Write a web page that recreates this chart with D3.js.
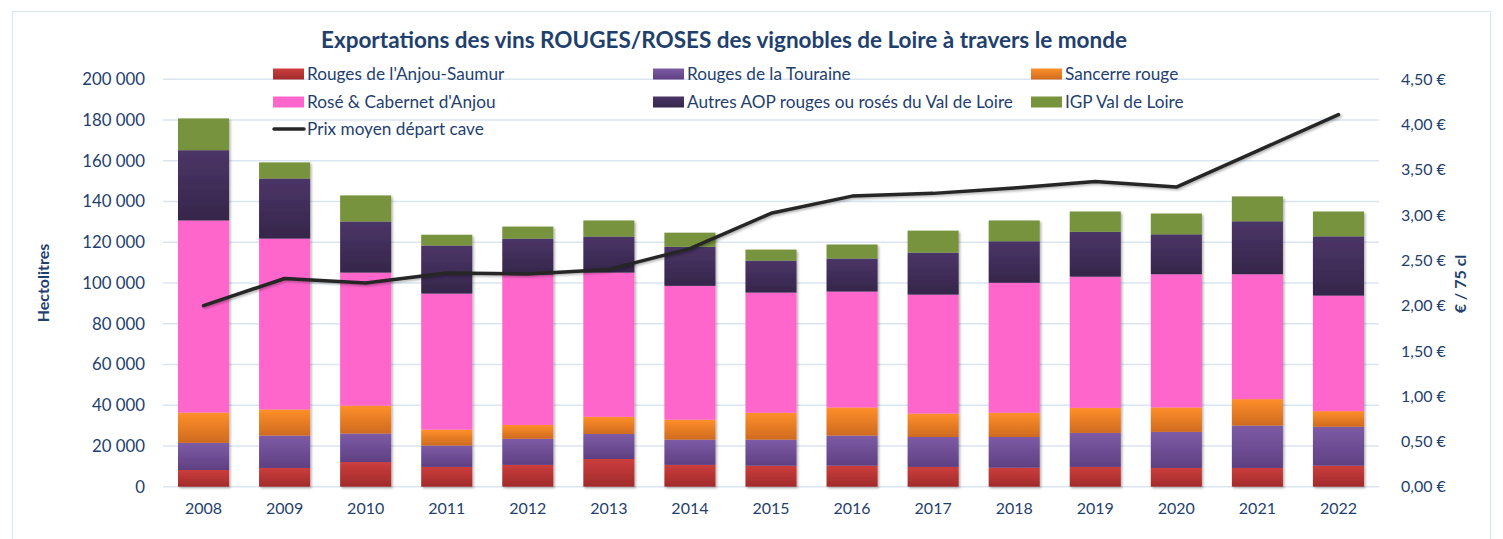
<!DOCTYPE html>
<html>
<head>
<meta charset="utf-8">
<script src="https://cdn.jsdelivr.net/npm/d3@7"></script>
<style>
    body { margin: 0; background: #fff; }
    text { font-family: Lato, "Open Sans", sans-serif; fill: #1f3f6e; }
</style>
</head>
<body>
<svg id="chart" width="1503" height="539"></svg>
<script>
const years = ["2008", "2009", "2010", "2011", "2012", "2013", "2014", "2015",
    "2016", "2017", "2018", "2019", "2020", "2021", "2022"];

const anjouSaumur = [8200, 9200, 12100, 9700, 10700, 13600, 10700, 10300, 10300, 9700, 9300, 9700, 9200, 9200, 10300];
const touraine = [13300, 15900, 14000, 10500, 12800, 12300, 12400, 12800, 14800, 14700, 15100, 16700, 17700, 20800, 19100];
const sancerre = [14900, 12800, 13700, 7800, 6800, 8400, 9800, 13200, 13800, 11500, 11900, 12300, 12000, 13000, 7700];
const roseAnjou = [94300, 83900, 65300, 66800, 73800, 70800, 65700, 59000, 56900, 58400, 63800, 64400, 65400, 61300, 56700];
const autresAop = [34500, 29500, 25100, 23600, 17700, 17700, 19200, 15700, 16200, 20600, 20400, 22000, 19600, 26000, 29100];
const igpLoire = [15600, 7900, 12800, 5300, 5900, 7900, 6900, 5400, 6900, 10800, 10200, 10000, 10200, 12200, 12200];

const prixMoyen = [2.00, 2.30, 2.25, 2.36, 2.35, 2.40, 2.63, 3.02, 3.21, 3.24, 3.30, 3.37, 3.31, 3.71, 4.11];

const leftTicks = [0, 20000, 40000, 60000, 80000, 100000, 120000, 140000, 160000, 180000, 200000];
const rightTicks = [0, 0.5, 1, 1.5, 2, 2.5, 3, 3.5, 4, 4.5];

const series = [
    { name: "Rouges de l'Anjou-Saumur", values: anjouSaumur, top: "#cc3d3d", bottom: "#a12b2b" },
    { name: "Rouges de la Touraine", values: touraine, top: "#7d5ba6", bottom: "#5f4082" },
    { name: "Sancerre rouge", values: sancerre, top: "#ff8f2a", bottom: "#cf6a1f" },
    { name: "Rosé & Cabernet d'Anjou", values: roseAnjou, top: "#ff66cc", bottom: "#ff66cc" },
    { name: "Autres AOP rouges ou rosés du Val de Loire", values: autresAop, top: "#4b3567", bottom: "#35264a" },
    { name: "IGP Val de Loire", values: igpLoire, top: "#77933c", bottom: "#77933c" }
];

const svg = d3.select("#chart");
const margin = { left: 163, right: 1379, top: 79.3, bottom: 486.7 };

// frame
svg.append("rect")
    .attr("x", 12.5).attr("y", 11.5)
    .attr("width", 1478).attr("height", 540)
    .attr("fill", "none")
    .attr("stroke", "#dbe5f1")
    .attr("stroke-width", 1);

const defs = svg.append("defs");

series.forEach(function(s, i) {
    const grad = defs.append("linearGradient")
        .attr("id", "grad" + i)
        .attr("x1", 0).attr("y1", 0).attr("x2", 0).attr("y2", 1);
    grad.append("stop").attr("offset", "0%").attr("stop-color", s.top);
    grad.append("stop").attr("offset", "100%").attr("stop-color", s.bottom);
});

const shadow = defs.append("filter")
    .attr("id", "shadow")
    .attr("x", "-20%").attr("y", "-20%").attr("width", "140%").attr("height", "140%");
shadow.append("feDropShadow")
    .attr("dx", 1.5).attr("dy", 1.5).attr("stdDeviation", 1.2)
    .attr("flood-color", "#000").attr("flood-opacity", 0.3);

const x = d3.scaleBand()
    .domain(years)
    .range([margin.left, margin.right])
    .paddingInner(0.37)
    .paddingOuter(0.185);

const y = d3.scaleLinear()
    .domain([0, 200000])
    .range([margin.bottom, margin.top]);

const y2 = d3.scaleLinear()
    .domain([0, 4.5])
    .range([margin.bottom, margin.top]);

// gridlines
svg.append("g")
    .selectAll("line")
    .data(leftTicks)
    .enter()
    .append("line")
    .attr("x1", margin.left)
    .attr("x2", margin.right)
    .attr("y1", function(d) { return y(d); })
    .attr("y2", function(d) { return y(d); })
    .attr("stroke", "#dbe5f1")
    .attr("stroke-width", 1.5);

// left axis
const fmtThousands = function(d) {
    return d3.format(",")(d).replace(/,/g, " ");
};

const leftAxis = svg.append("g")
    .attr("transform", "translate(" + (margin.left - 18) + ",0)")
    .call(d3.axisLeft(y).tickValues(leftTicks).tickFormat(fmtThousands).tickSize(0).tickPadding(0));
leftAxis.select(".domain").remove();
leftAxis.selectAll("text").attr("font-size", 16.8).style("fill", "#1f3f6e");

// right axis
const fmtEuro = function(d) {
    return d3.format(".2f")(d).replace(".", ",") + " €";
};

const rightAxis = svg.append("g")
    .attr("transform", "translate(" + (margin.right + 22) + ",0)")
    .call(d3.axisRight(y2).tickValues(rightTicks).tickFormat(fmtEuro).tickSize(0).tickPadding(0));
rightAxis.select(".domain").remove();
rightAxis.selectAll("text").attr("font-size", 16).style("fill", "#1f3f6e");

// x axis labels
const xAxis = svg.append("g")
    .attr("transform", "translate(0," + (margin.bottom + 16) + ")")
    .call(d3.axisBottom(x).tickSize(0).tickPadding(0));
xAxis.select(".domain").remove();
xAxis.selectAll("text").attr("font-size", 16).attr("dy", "0.71em").style("fill", "#1f3f6e");

// stacked bars
const rows = years.map(function(yr, i) {
    const row = { year: yr };
    series.forEach(function(s, k) { row["s" + k] = s.values[i]; });
    return row;
});

const stack = d3.stack().keys(series.map(function(s, k) { return "s" + k; }));
const stacked = stack(rows);

const barLayer = svg.append("g").attr("filter", "url(#shadow)");

barLayer.selectAll("g")
    .data(stacked)
    .enter()
    .append("g")
    .attr("fill", function(d, i) { return "url(#grad" + i + ")"; })
    .selectAll("rect")
    .data(function(d) { return d; })
    .enter()
    .append("rect")
    .attr("x", function(d) { return x(d.data.year); })
    .attr("width", x.bandwidth())
    .attr("y", function(d) { return y(d[1]); })
    .attr("height", function(d) { return y(d[0]) - y(d[1]); });

// price line
const line = d3.line()
    .x(function(d, i) { return x(years[i]) + x.bandwidth() / 2; })
    .y(function(d) { return y2(d); });

svg.append("path")
    .datum(prixMoyen)
    .attr("d", line)
    .attr("fill", "none")
    .attr("stroke", "#262626")
    .attr("stroke-width", 3.5)
    .attr("stroke-linejoin", "round")
    .attr("stroke-linecap", "round")
    .attr("filter", "url(#shadow)");

// axis titles
svg.append("text")
    .attr("transform", "translate(49,283) rotate(-90)")
    .attr("text-anchor", "middle")
    .attr("font-size", 16)
    .attr("font-weight", "bold")
    .text("Hectolitres");

svg.append("text")
    .attr("transform", "translate(1466,284) rotate(-90)")
    .attr("text-anchor", "middle")
    .attr("font-size", 16)
    .attr("font-weight", "bold")
    .text("€ / 75 cl");

// title
svg.append("text")
    .attr("x", 724)
    .attr("y", 48)
    .attr("text-anchor", "middle")
    .attr("font-size", 22.5)
    .attr("font-weight", "bold")
    .text("Exportations des vins ROUGES/ROSES des vignobles de Loire à travers le monde");

// legend
const legendCols = [273, 653, 1031];
const legendRows = [74, 102, 129];

series.forEach(function(s, i) {
    const lx = legendCols[i % 3];
    const ly = legendRows[Math.floor(i / 3)];
    svg.append("rect")
        .attr("x", lx).attr("y", ly - 5.5)
        .attr("width", 31).attr("height", 11)
        .attr("fill", "url(#grad" + i + ")");
    svg.append("text")
        .attr("x", lx + 34).attr("y", ly)
        .attr("dy", "0.35em")
        .attr("font-size", 17.2)
        .text(s.name);
});

svg.append("line")
    .attr("x1", 274).attr("x2", 304)
    .attr("y1", legendRows[2]).attr("y2", legendRows[2])
    .attr("stroke", "#262626")
    .attr("stroke-width", 3.5)
    .attr("stroke-linecap", "round");
svg.append("text")
    .attr("x", 307).attr("y", legendRows[2])
    .attr("dy", "0.35em")
    .attr("font-size", 17.2)
    .text("Prix moyen départ cave");
</script>
</body>
</html>
